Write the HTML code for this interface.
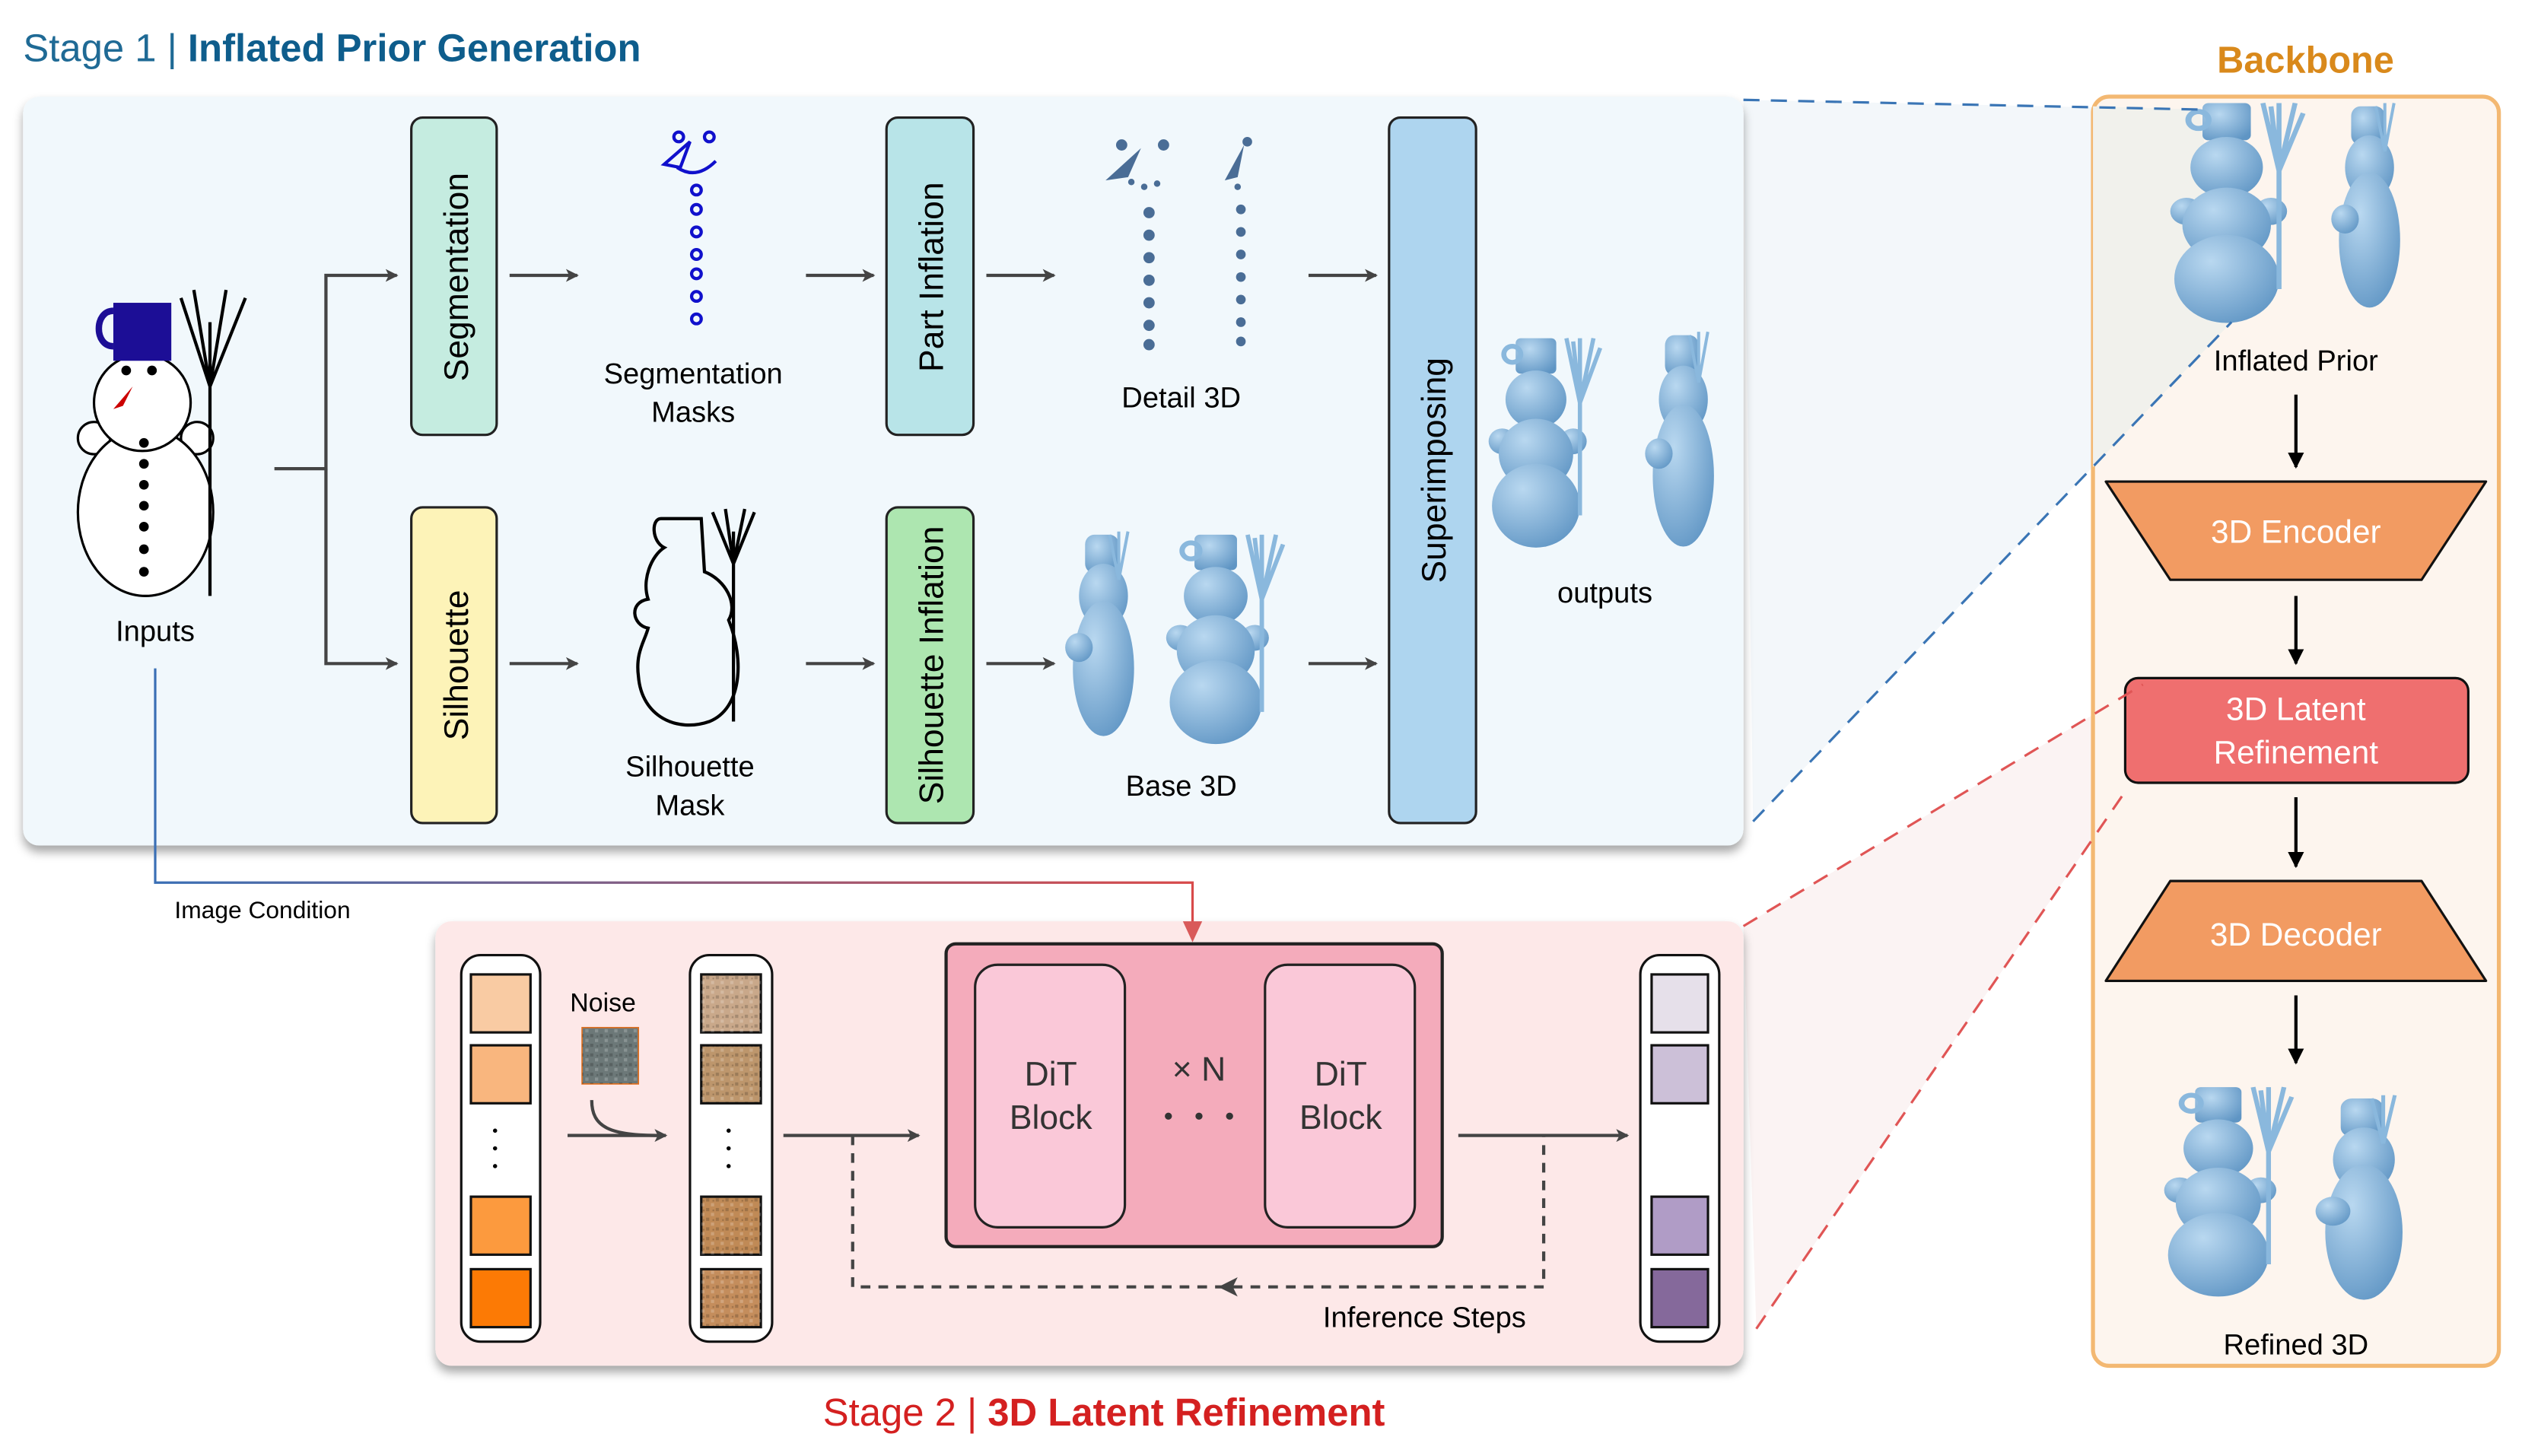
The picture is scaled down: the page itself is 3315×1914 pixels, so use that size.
<!DOCTYPE html>
<html><head><meta charset="utf-8"><style>
html,body{margin:0;padding:0;background:#fff}
svg{display:block}
text{font-family:"Liberation Sans",sans-serif}
</style></head><body>
<svg width="3315" height="1914" viewBox="0 0 1565 904" xmlns="http://www.w3.org/2000/svg">
<defs>
<radialGradient id="bl" cx="0.35" cy="0.3" r="0.8"><stop offset="0" stop-color="#b9d8f0"/><stop offset="1" stop-color="#5f95c4"/></radialGradient>
<filter id="sh" x="-5%" y="-5%" width="110%" height="115%"><feDropShadow dx="0" dy="4" stdDeviation="3" flood-color="#000" flood-opacity="0.35"/></filter>
<marker id="ag" markerWidth="8" markerHeight="8" refX="7" refY="4" orient="auto" markerUnits="userSpaceOnUse"><path d="M0,0 L8,4 L0,8 L2,4z" fill="#444"/></marker>
<marker id="ab" markerWidth="10" markerHeight="10" refX="9" refY="5" orient="auto" markerUnits="userSpaceOnUse"><path d="M0,0 L10,5 L0,10z" fill="#000"/></marker>
<linearGradient id="ic" x1="0" x2="1"><stop offset="0" stop-color="#3a6fb5"/><stop offset="1" stop-color="#d84a4a"/></linearGradient>
<pattern id="nz" width="6" height="6" patternUnits="userSpaceOnUse"><rect width="6" height="6" fill="none"/><rect x="0" y="0" width="2" height="2" fill="#000" opacity="0.18"/><rect x="3" y="3" width="2" height="2" fill="#fff" opacity="0.2"/><rect x="4" y="1" width="1" height="1" fill="#000" opacity="0.2"/></pattern>
<g id="sn">
<rect x="12" y="0" width="24" height="22" rx="3" fill="url(#bl)"/>
<circle cx="10" cy="10" r="5" fill="none" stroke="#8ab8dd" stroke-width="3"/>
<circle cx="24" cy="38" r="18" fill="url(#bl)"/>
<circle cx="4" cy="64" r="8" fill="url(#bl)"/>
<circle cx="46" cy="64" r="8" fill="url(#bl)"/>
<circle cx="24" cy="72" r="22" fill="url(#bl)"/>
<circle cx="24" cy="104" r="26" fill="url(#bl)"/>
<path d="M50,0 L50,110 M50,40 L42,0 M50,40 L58,0 M50,40 L46,2 M50,40 L62,6" stroke="#8ab8dd" stroke-width="2.5" fill="none"/>
</g>
<g id="sns">
<rect x="14" y="2" width="22" height="24" rx="6" fill="url(#bl)"/>
<ellipse cx="26" cy="40" rx="16" ry="20" fill="url(#bl)"/>
<ellipse cx="26" cy="85" rx="20" ry="42" fill="url(#bl)"/>
<circle cx="10" cy="72" r="9" fill="url(#bl)"/>
<path d="M36,30 L36,0 M36,30 L42,0 M36,30 L30,2" stroke="#8ab8dd" stroke-width="2" fill="none"/>
</g>
</defs>

<polygon points="1082,62 1365,68 1385,200 1088,510" fill="#f3f7fa"/>
<polygon points="1082,575 1330,425 1320,490 1090,825" fill="#fbf3f3"/>

<text x="14" y="38" font-size="24" fill="#1f6a95">Stage 1 | <tspan font-weight="bold" fill="#0e5d8c">Inflated Prior Generation</tspan></text>
<rect x="14" y="60" width="1068" height="465" rx="10" fill="#f1f8fc" filter="url(#sh)"/>

<rect x="255" y="73" width="53" height="197" rx="7" fill="#c5ece0" stroke="#222" stroke-width="1.5"/>
<text transform="translate(290,172) rotate(-90)" text-anchor="middle" font-size="21">Segmentation</text>
<rect x="255" y="315" width="53" height="196" rx="7" fill="#fdf3b8" stroke="#222" stroke-width="1.5"/>
<text transform="translate(290,413) rotate(-90)" text-anchor="middle" font-size="21">Silhouette</text>
<rect x="550" y="73" width="54" height="197" rx="7" fill="#b8e4e8" stroke="#222" stroke-width="1.5"/>
<text transform="translate(585,172) rotate(-90)" text-anchor="middle" font-size="21">Part Inflation</text>
<rect x="550" y="315" width="54" height="196" rx="7" fill="#ade6b0" stroke="#222" stroke-width="1.5"/>
<text transform="translate(585,413) rotate(-90)" text-anchor="middle" font-size="21">Silhouette Inflation</text>
<rect x="862" y="73" width="54" height="438" rx="7" fill="#aed5ef" stroke="#222" stroke-width="1.5"/>
<text transform="translate(897,292) rotate(-90)" text-anchor="middle" font-size="21">Superimposing</text>

<g stroke="#444" stroke-width="2" fill="none" marker-end="url(#ag)">
<path d="M170,291 H202 V171 H246"/>
<path d="M202,291 V412 H246"/>
<path d="M316,171 H358"/><path d="M500,171 H542"/><path d="M612,171 H654"/><path d="M812,171 H854"/>
<path d="M316,412 H358"/><path d="M500,412 H542"/><path d="M612,412 H654"/><path d="M812,412 H854"/>
</g>

<g stroke="#000" stroke-width="1.5">
<circle cx="58" cy="272" r="10" fill="#fff"/><circle cx="122" cy="272" r="10" fill="#fff"/>
<ellipse cx="90" cy="318" rx="42" ry="52" fill="#fff"/>
<circle cx="88" cy="250" r="30" fill="#fff"/>
<rect x="70" y="188" width="36" height="36" fill="#1c0e96" stroke="none"/>
<path d="M70,193 C58,193 58,215 70,215" fill="none" stroke="#1c0e96" stroke-width="4"/>
<path d="M130,370 L130,200 M130,240 L112,185 M130,240 L120,180 M130,240 L140,180 M130,240 L152,185" fill="none" stroke-width="2"/>
</g>
<path d="M70,254 L82,240 L76,252z" fill="#c00"/>
<g fill="#000"><circle cx="78" cy="230" r="3"/><circle cx="94" cy="230" r="3"/>
<circle cx="89" cy="275" r="3"/><circle cx="89" cy="288" r="3"/><circle cx="89" cy="301" r="3"/><circle cx="89" cy="314" r="3"/><circle cx="89" cy="327" r="3"/><circle cx="89" cy="341" r="3"/><circle cx="89" cy="355" r="3"/></g>
<text x="96" y="398" text-anchor="middle" font-size="18">Inputs</text>

<g fill="none" stroke="#1010cc" stroke-width="2">
<circle cx="421" cy="85" r="3"/><circle cx="440" cy="85" r="3"/>
<path d="M412,102 L428,88 L422,104z"/>
<circle cx="432" cy="118" r="3"/><circle cx="432" cy="130" r="3"/><circle cx="432" cy="144" r="3"/><circle cx="432" cy="158" r="3"/><circle cx="432" cy="170" r="3"/><circle cx="432" cy="184" r="3"/><circle cx="432" cy="198" r="3"/>
<path d="M420,104 Q432,112 444,100"/>
</g>
<text x="430" y="238" text-anchor="middle" font-size="18">Segmentation</text>
<text x="430" y="262" text-anchor="middle" font-size="18">Masks</text>

<g fill="#4a6d96"><circle cx="696" cy="90" r="3.5"/><circle cx="722" cy="90" r="3.5"/><path d="M686,112 L708,92 L700,110z"/>
<circle cx="702" cy="113" r="2"/><circle cx="710" cy="116" r="2"/><circle cx="718" cy="114" r="2"/>
<circle cx="713" cy="132" r="3.5"/><circle cx="713" cy="146" r="3.5"/><circle cx="713" cy="160" r="3.5"/><circle cx="713" cy="174" r="3.5"/><circle cx="713" cy="188" r="3.5"/><circle cx="713" cy="202" r="3.5"/><circle cx="713" cy="214" r="3.5"/>
<circle cx="774" cy="88" r="3"/><path d="M760,112 L772,90 L768,110z"/><circle cx="768" cy="116" r="2"/>
<circle cx="770" cy="130" r="3"/><circle cx="770" cy="144" r="3"/><circle cx="770" cy="158" r="3"/><circle cx="770" cy="172" r="3"/><circle cx="770" cy="186" r="3"/><circle cx="770" cy="200" r="3"/><circle cx="770" cy="212" r="3"/></g>
<text x="733" y="253" text-anchor="middle" font-size="18">Detail 3D</text>

<g fill="none" stroke="#000" stroke-width="2">
<path d="M410,322 L435,322 L437,355 C450,360 458,375 452,385 C462,410 460,440 440,448 C420,455 398,445 396,420 C394,405 400,398 402,390 C392,388 390,374 402,372 C398,360 404,345 412,340 C404,336 404,322 410,322z"/>
<path d="M455,448 L455,330 M455,350 L442,318 M455,350 L450,316 M455,350 L462,316 M455,350 L468,318"/>
</g>
<text x="428" y="482" text-anchor="middle" font-size="18">Silhouette</text>
<text x="428" y="506" text-anchor="middle" font-size="18">Mask</text>

<use href="#sns" transform="translate(660,330) scale(0.95,1.0)"/>
<use href="#sn" transform="translate(728,332) scale(1.1,1.0)"/>
<text x="733" y="494" text-anchor="middle" font-size="18">Base 3D</text>

<use href="#sn" transform="translate(928,210) scale(1.05,1.0)"/>
<use href="#sns" transform="translate(1020,206) scale(0.95,1.05)"/>
<text x="996" y="374" text-anchor="middle" font-size="18">outputs</text>

<rect x="270" y="572" width="812" height="276" rx="10" fill="#fde8e8" filter="url(#sh)"/>

<path d="M96,415 V548 H740 V574" fill="none" stroke="url(#ic)" stroke-width="1.5"/>
<path d="M734,572 L740,585 L746,572z" fill="#d95a5a"/>
<text x="108" y="570" font-size="15">Image Condition</text>

<g stroke="#111" stroke-width="1.5">
<rect x="286" y="593" width="49" height="240" rx="12" fill="#fff"/>
<rect x="292" y="605" width="37" height="36" fill="#f9cba3"/><rect x="292" y="649" width="37" height="36" fill="#f9b67e"/>
<rect x="292" y="743" width="37" height="36" fill="#fc9a3e"/><rect x="292" y="788" width="37" height="36" fill="#fc7a05"/>
<rect x="428" y="593" width="51" height="240" rx="12" fill="#fff"/>
<rect x="435" y="605" width="37" height="36" fill="#c9a88a"/><rect x="435" y="649" width="37" height="36" fill="#bd966c"/>
<rect x="435" y="743" width="37" height="36" fill="#c08a56"/><rect x="435" y="788" width="37" height="36" fill="#c48d5c"/>
<rect x="1018" y="593" width="49" height="240" rx="12" fill="#fff"/>
<rect x="1025" y="605" width="35" height="36" fill="#e6e0ea"/><rect x="1025" y="649" width="35" height="36" fill="#ccc0d8"/>
<rect x="1025" y="743" width="35" height="36" fill="#b09cc6"/><rect x="1025" y="788" width="35" height="36" fill="#85699b"/>
</g>
<g fill="url(#nz)"><rect x="435" y="605" width="37" height="36"/><rect x="435" y="649" width="37" height="36"/><rect x="435" y="743" width="37" height="36"/><rect x="435" y="788" width="37" height="36"/></g>
<g fill="#000"><circle cx="307" cy="702" r="1.3"/><circle cx="307" cy="713" r="1.3"/><circle cx="307" cy="724" r="1.3"/>
<circle cx="452" cy="702" r="1.3"/><circle cx="452" cy="713" r="1.3"/><circle cx="452" cy="724" r="1.3"/></g>
<text x="374" y="628" text-anchor="middle" font-size="16">Noise</text>
<rect x="361" y="638" width="35" height="35" fill="#6c7878" stroke="#e07020" stroke-width="0.8"/>
<rect x="361" y="638" width="35" height="35" fill="url(#nz)"/>
<g stroke="#444" stroke-width="2" fill="none">
<path d="M367,683 C367,700 378,705 410,705"/>
<path d="M352,705 H413" marker-end="url(#ag)"/>
<path d="M486,705 H570" marker-end="url(#ag)"/>
<path d="M905,705 H1010" marker-end="url(#ag)"/>
<path d="M529,705 V799 H958 V705" stroke-dasharray="6,5"/>
</g>
<path d="M768,793 L756,799 L768,805 L765,799z" fill="#444"/>
<text x="884" y="824" text-anchor="middle" font-size="18">Inference Steps</text>

<rect x="587" y="586" width="308" height="188" rx="6" fill="#f4abbb" stroke="#222" stroke-width="2"/>
<rect x="605" y="599" width="93" height="163" rx="14" fill="#fac8d8" stroke="#222" stroke-width="1.5"/>
<rect x="785" y="599" width="93" height="163" rx="14" fill="#fac8d8" stroke="#222" stroke-width="1.5"/>
<text x="652" y="674" text-anchor="middle" font-size="21" fill="#333">DiT</text>
<text x="652" y="701" text-anchor="middle" font-size="21" fill="#333">Block</text>
<text x="832" y="674" text-anchor="middle" font-size="21" fill="#333">DiT</text>
<text x="832" y="701" text-anchor="middle" font-size="21" fill="#333">Block</text>
<text x="744" y="671" text-anchor="middle" font-size="21" fill="#333">× N</text>
<g fill="#333"><circle cx="725" cy="693" r="2.2"/><circle cx="744" cy="693" r="2.2"/><circle cx="763" cy="693" r="2.2"/></g>

<text x="685" y="885" text-anchor="middle" font-size="24" fill="#d42020">Stage 2 | <tspan font-weight="bold">3D Latent Refinement</tspan></text>

<text x="1431" y="45" text-anchor="middle" font-size="23" font-weight="bold" fill="#d9891b">Backbone</text>
<rect x="1299" y="60" width="252" height="788" rx="10" fill="#fdf5ee" stroke="#f3b872" stroke-width="2.5"/>
<polygon points="1299,66 1365,68 1385,200 1299,290" fill="#f1f1ec"/>
<use href="#sn" transform="translate(1352,64) scale(1.25,1.05)"/>
<use href="#sns" transform="translate(1446,64) scale(0.95,1.0)"/>
<text x="1425" y="230" text-anchor="middle" font-size="18">Inflated Prior</text>
<g stroke="#000" stroke-width="2" marker-end="url(#ab)">
<path d="M1425,245 V290"/><path d="M1425,370 V412"/><path d="M1425,495 V538"/><path d="M1425,618 V660"/>
</g>
<polygon points="1307,299 1543,299 1503,360 1347,360" fill="#f29b62" stroke="#111" stroke-width="1.5" stroke-linejoin="round"/>
<text x="1425" y="337" text-anchor="middle" font-size="20" fill="#fff">3D Encoder</text>
<rect x="1319" y="421" width="213" height="65" rx="8" fill="#ef6f6f" stroke="#111" stroke-width="1.5"/>
<text x="1425" y="447" text-anchor="middle" font-size="20" fill="#fff">3D Latent</text>
<text x="1425" y="474" text-anchor="middle" font-size="20" fill="#fff">Refinement</text>
<polygon points="1347,547 1503,547 1543,609 1307,609" fill="#f29b62" stroke="#111" stroke-width="1.5" stroke-linejoin="round"/>
<text x="1425" y="587" text-anchor="middle" font-size="20" fill="#fff">3D Decoder</text>
<use href="#sn" transform="translate(1348,675) scale(1.2,1.0)"/>
<use href="#sns" transform="translate(1436,680) scale(1.2,1.0)"/>
<text x="1425" y="841" text-anchor="middle" font-size="18">Refined 3D</text>

<g fill="none" stroke-width="1.5" stroke-dasharray="10,7">
<path d="M1082,62 L1365,68" stroke="#3a75b5"/>
<path d="M1088,510 L1385,200" stroke="#3a75b5"/>
<path d="M1082,575 L1330,425" stroke="#e05555"/>
<path d="M1090,825 L1320,490" stroke="#e05555"/>
</g>
</svg>
</body></html>
